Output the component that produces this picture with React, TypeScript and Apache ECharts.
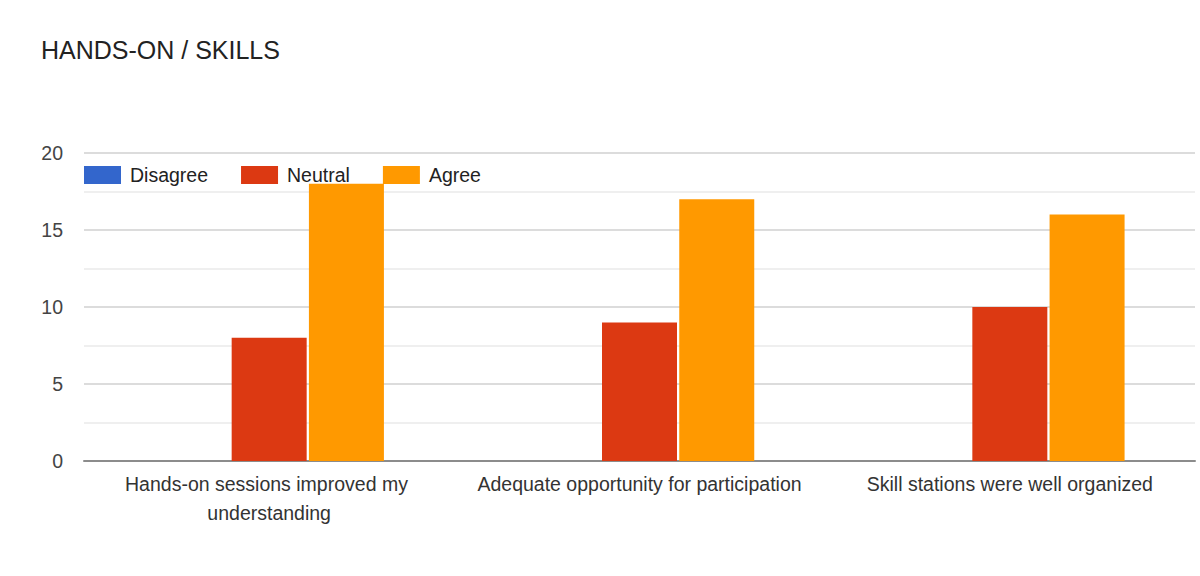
import React, { useEffect, useRef } from "react";
import * as echarts from "echarts";

const categories = [
  "Hands-on sessions improved my understanding",
  "Adequate opportunity for participation",
  "Skill stations were well organized",
];
const disagree = [0, 0, 0];
const neutral = [8, 9, 10];
const agree = [18, 17, 16];
const yTicks = [0, 5, 10, 15, 20];

const FONT = "'Liberation Sans', Arial, sans-serif";

export default function App() {
  const ref = useRef<HTMLDivElement>(null);

  useEffect(() => {
    if (!ref.current) return;
    const chart = echarts.init(ref.current, undefined, { renderer: "svg" });
    chart.setOption({
      animation: false,
      backgroundColor: "#ffffff",
      textStyle: { fontFamily: FONT },
      title: {
        text: "HANDS-ON / SKILLS",
        left: 36,
        top: 32,
        textStyle: { fontFamily: FONT, fontSize: 25, fontWeight: "normal", color: "#222" },
      },
      legend: {
        left: 84,
        top: 165,
        padding: 0,
        itemWidth: 37,
        itemHeight: 18,
        itemGap: 33,
        icon: "rect",
        textStyle: { fontFamily: FONT, fontSize: 19.5, color: "#222", padding: [0, 0, 0, 4] },
        data: ["Disagree", "Neutral", "Agree"],
      },
      grid: {
        left: 84,
        right: 5,
        top: 153,
        bottom: 115,
        containLabel: false,
        outerBoundsMode: "none",
      },
      xAxis: {
        type: "category",
        data: categories,
        axisTick: { show: false },
        axisLine: { lineStyle: { color: "#8c8c8c", width: 2 } },
        axisLabel: {
          interval: 0,
          margin: 8,
          fontFamily: FONT,
          fontSize: 19.5,
          color: "#333",
          width: 350,
          overflow: "break",
          lineHeight: 29,
        },
      },
      yAxis: {
        type: "value",
        min: yTicks[0],
        max: yTicks[yTicks.length - 1],
        interval: 5,
        axisLine: { show: false },
        axisTick: { show: false },
        axisLabel: { margin: 21, fontFamily: FONT, fontSize: 19.5, color: "#444" },
        splitLine: { lineStyle: { color: "#dcdcdc", width: 2 } },
        minorTick: { show: false, splitNumber: 2 },
        minorSplitLine: { show: true, lineStyle: { color: "#efefef", width: 2 } },
      },
      series: [
        { name: "Disagree", type: "bar", data: disagree, itemStyle: { color: "#3366cc" }, barWidth: 75, barGap: "3%" },
        { name: "Neutral", type: "bar", data: neutral, itemStyle: { color: "#dc3912" }, barWidth: 75, barGap: "3%" },
        { name: "Agree", type: "bar", data: agree, itemStyle: { color: "#ff9900" }, barWidth: 75, barGap: "3%" },
      ],
    });
    return () => chart.dispose();
  }, []);

  return (
    <div
      ref={ref}
      style={{ position: "fixed", left: 0, top: 0, width: 1200, height: 576, background: "#fff" }}
    />
  );
}
